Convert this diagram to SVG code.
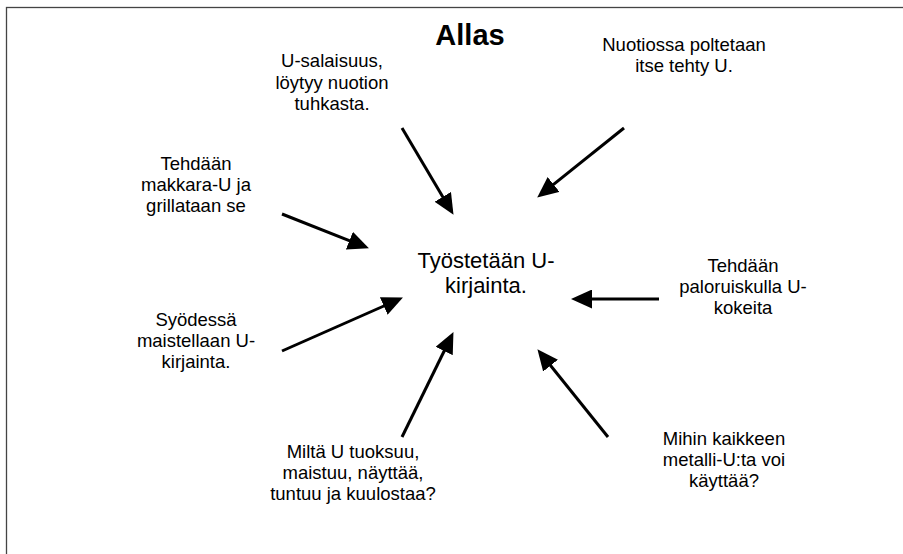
<svg xmlns="http://www.w3.org/2000/svg" width="903" height="554" viewBox="0 0 903 554">
<style>
text{font-family:"Liberation Sans",Arial,sans-serif;fill:#000;text-anchor:middle}
.lbl{font-size:18.5px}
.ctr{font-size:22px}
.ttl{font-size:29px;font-weight:bold}
.con{stroke:#000;stroke-width:3;fill:none;marker-end:url(#ah)}
</style>
<defs>
<marker id="ah" markerUnits="userSpaceOnUse" markerWidth="21" markerHeight="19" refX="10" refY="9.5" orient="auto" viewBox="0 0 21 19">
<path d="M0,0 L21,9.5 L0,19 z" fill="#000"/>
</marker>
</defs>
<rect x="6.5" y="7.5" width="1000" height="1000" fill="#fff" stroke="#444" stroke-width="1.3"/>
<g id="title"><text class="ttl" x="470" y="45">Allas</text></g>
<g id="center"><text class="ctr" x="486" y="268">Työstetään U-</text><text class="ctr" x="486" y="293">kirjainta.</text></g>
<g id="n1"><text class="lbl" x="332" y="67">U-salaisuus,</text><text class="lbl" x="332" y="89">löytyy nuotion</text><text class="lbl" x="332" y="110">tuhkasta.</text></g>
<g id="n2"><text class="lbl" x="684" y="51">Nuotiossa poltetaan</text><text class="lbl" x="684" y="72">itse tehty U.</text></g>
<g id="n3"><text class="lbl" x="196" y="170">Tehdään</text><text class="lbl" x="196" y="191">makkara-U ja</text><text class="lbl" x="196" y="212">grillataan se</text></g>
<g id="n4"><text class="lbl" x="196" y="326">Syödessä</text><text class="lbl" x="196" y="347">maistellaan U-</text><text class="lbl" x="196" y="368">kirjainta.</text></g>
<g id="n5"><text class="lbl" x="743" y="272">Tehdään</text><text class="lbl" x="743" y="293">paloruiskulla U-</text><text class="lbl" x="743" y="314">kokeita</text></g>
<g id="n6"><text class="lbl" x="353" y="458">Miltä U tuoksuu,</text><text class="lbl" x="353" y="479">maistuu, näyttää,</text><text class="lbl" x="353" y="500">tuntuu ja kuulostaa?</text></g>
<g id="n7"><text class="lbl" x="724" y="445">Mihin kaikkeen</text><text class="lbl" x="724" y="466">metalli-U:ta voi</text><text class="lbl" x="724" y="487">käyttää?</text></g>
<g id="connectors">
<line class="con" x1="402" y1="128" x2="447.9" y2="205.4"/>
<line class="con" x1="624" y1="128" x2="545.8" y2="190.7"/>
<line class="con" x1="282" y1="214" x2="358.7" y2="244.3"/>
<line class="con" x1="282" y1="351" x2="392.9" y2="302"/>
<line class="con" x1="402" y1="437" x2="448.6" y2="342"/>
<line class="con" x1="659" y1="299" x2="582" y2="299"/>
<line class="con" x1="608" y1="437" x2="544.3" y2="357.8"/>
</g>
</svg>
